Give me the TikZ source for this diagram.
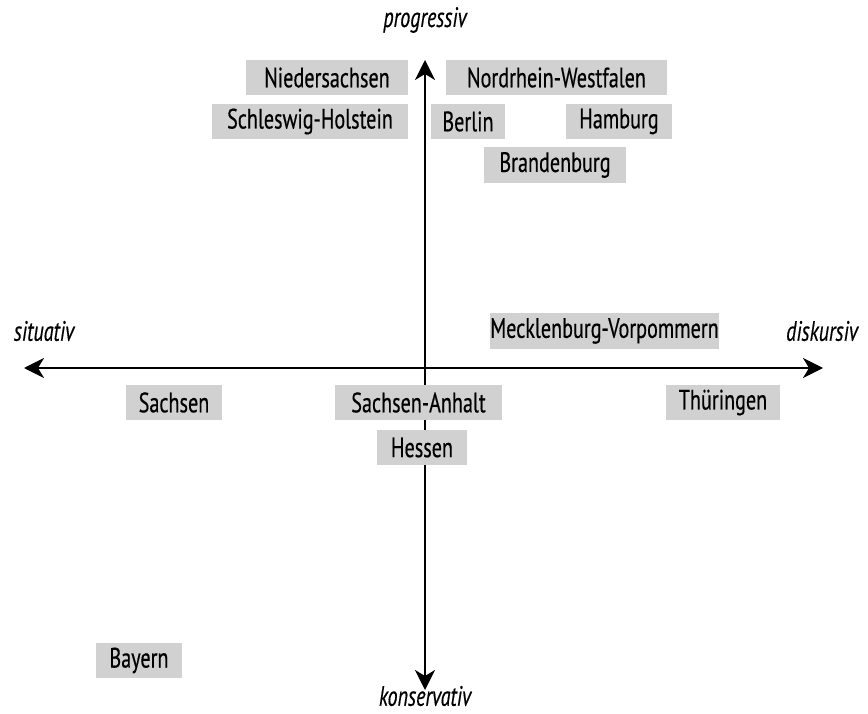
\documentclass[tikz,border=0pt]{standalone}
\usepackage{fontspec}
\setmainfont{PT Sans}[FakeStretch=0.72,FakeBold=0.4]
\usetikzlibrary{arrows.meta}
\begin{document}
\begin{tikzpicture}[x=1pt,y=-1pt,
  state/.style={fill=black!18,inner sep=0pt,font=\fontsize{28}{30}\selectfont},
  axlabel/.style={font=\fontsize{28}{30}\selectfont\itshape},
  axis/.style={line width=2.2pt,-{Stealth[length=20pt,width=20pt,inset=6pt]}}]
\useasboundingbox (0,0) rectangle (868,714);
\coordinate (o) at (425,368);
\coordinate (top) at (425,60);
\coordinate (bot) at (425,690);
\coordinate (lft) at (24,368);
\coordinate (rgt) at (823,368);
\draw[axis] (o) -- (top);
\draw[axis] (o) -- (bot);
\draw[axis] (o) -- (lft);
\draw[axis] (o) -- (rgt);
\newcommand{\stbox}[6]{\node[state,minimum width=#4-#2,minimum height=#5-#3] (#1) at ({(#2+#4)/2},{(#3+#5)/2}) {#6};}
\stbox{nie}{246}{60}{408}{95}{Niedersachsen}
\stbox{nrw}{446}{60}{667}{95}{Nordrhein-Westfalen}
\stbox{sh}{212}{104}{408}{139}{Schleswig-Holstein}
\stbox{ber}{431}{104}{505}{139}{Berlin}
\stbox{ham}{566}{104}{672}{139}{Hamburg}
\stbox{bra}{484}{147}{626}{183}{Brandenburg}
\stbox{mv}{490}{313}{719}{349}{Mecklenburg-Vorpommern}
\stbox{sac}{126}{385}{222}{420}{Sachsen}
\stbox{saa}{335}{385}{502}{420}{Sachsen-Anhalt}
\stbox{thu}{666}{385}{780}{420}{Thüringen}
\stbox{hes}{377}{430}{467}{465}{Hessen}
\stbox{bay}{96}{643}{182}{678}{Bayern}
\node[axlabel] (pro) at (425,20) {progressiv};
\node[axlabel] (kon) at (425,696) {konservativ};
\node[axlabel] (sit) at (44,331) {situativ};
\node[axlabel] (dis) at (822,331) {diskursiv};
\end{tikzpicture}
\end{document}
